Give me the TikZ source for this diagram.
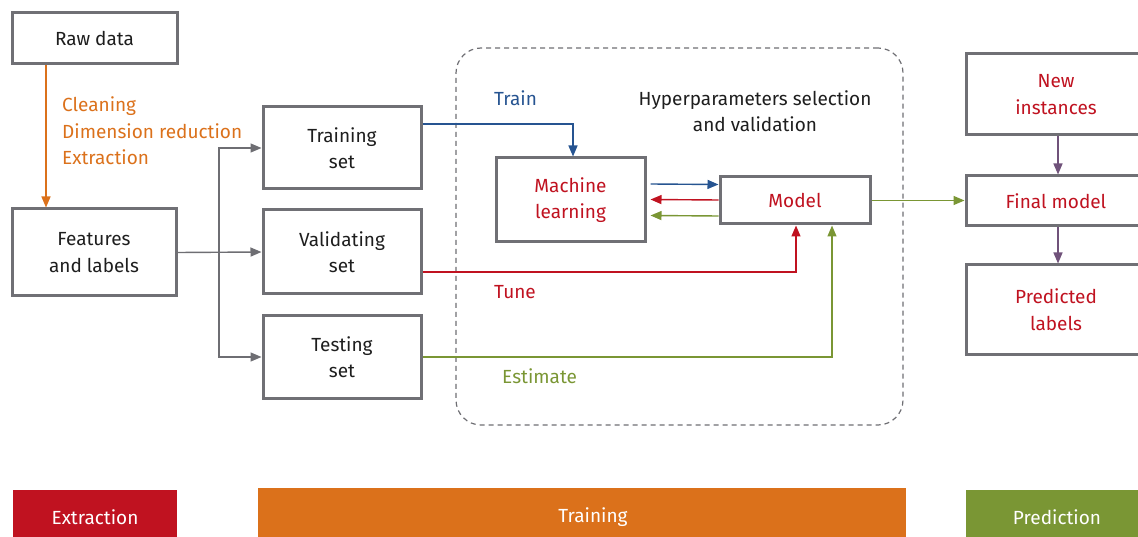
\documentclass[tikz,border=0pt]{standalone}
\usepackage{fontspec}
\setmainfont{Fira Sans}
\usetikzlibrary{arrows.meta}
\definecolor{boxgray}{RGB}{112,112,117}
\definecolor{linegray}{RGB}{110,110,115}
\definecolor{myblue}{RGB}{38,84,145}
\definecolor{myred}{RGB}{192,18,32}
\definecolor{mygreen}{RGB}{122,150,52}
\definecolor{myorange}{RGB}{219,113,27}
\definecolor{mypurple}{RGB}{112,82,122}
\definecolor{textgray}{RGB}{30,30,30}
\tikzset{
  every node/.style={font=\fontsize{19}{26.5}\selectfont, text=textgray},
  box/.style={draw=boxgray, line width=3pt, fill=white, align=center, inner sep=0pt},
  conn/.style={line width=1.4pt, -{Triangle[length=11pt,width=9pt]}},
  lbl/.style={inner sep=0pt, align=left},
  band/.style={inner sep=0pt, text=white, font=\fontsize{19}{22}\selectfont},
}
\begin{document}
\begin{tikzpicture}[x=1pt,y=-1pt]
\useasboundingbox (0,0) rectangle (1138,537);

% hyperparameter search region
\node[draw=linegray, line width=1.2pt, dash pattern=on 5pt off 4pt, rounded corners=25pt,
      minimum width=447, minimum height=377, inner sep=0pt] (hp) at (679.5,236.5) {};

% extraction stage
\node[box, minimum width=165, minimum height=51] (raw) at (94.5,38.5) {Raw data};
\node[box, minimum width=164, minimum height=87] (feat) at (94,252.5) {Features\\and labels};

% data splits
\node[box, minimum width=158, minimum height=82] (train) at (342,148) {Training\\set};
\node[box, minimum width=158, minimum height=84] (valid) at (342,252) {Validating\\set};
\node[box, minimum width=158, minimum height=82] (test) at (342,357) {Testing\\set};

% learning loop
\node[box, minimum width=149, minimum height=84] (ml) at (570.5,200) {\textcolor{myred}{Machine}\\\textcolor{myred}{learning}};
\node[box, minimum width=150, minimum height=47] (model) at (795,200.5) {\textcolor{myred}{Model}};

% prediction stage
\node[box, minimum width=180, minimum height=81] (new) at (1056,94.5) {\textcolor{myred}{New}\\\textcolor{myred}{instances}};
\node[box, minimum width=180, minimum height=50] (final) at (1056,201) {\textcolor{myred}{Final model}};
\node[box, minimum width=180, minimum height=89] (pred) at (1056,309.5) {\textcolor{myred}{Predicted}\\\textcolor{myred}{labels}};

% labels
\node[lbl, text=myorange, anchor=west] (steps) at (62,131) {Cleaning\\Dimension reduction\\Extraction};
\node[lbl, text=myblue, anchor=west] (trainlbl) at (494,98) {Train};
\node[lbl, align=center] (hplbl) at (755,111) {Hyperparameters selection\\and validation};
\node[lbl, text=myred, anchor=west] (tunelbl) at (494,292) {Tune};
\node[lbl, text=mygreen, anchor=west] (estlbl) at (502,376) {Estimate};

% connectors
\draw[conn, draw=myorange] ([xshift=-48.5]raw.south) -- ([xshift=-48]feat.north);

\coordinate (split) at (219,252.5);
\draw[conn, draw=linegray] (feat.east) -- (valid.west);
\draw[conn, draw=linegray] (split) |- (train.west);
\draw[conn, draw=linegray] (split) |- (test.west);

\draw[conn, draw=myblue] ([yshift=24]train.east) -| ([xshift=2.5]ml.north);
\draw[conn, draw=myblue] ([xshift=4,yshift=16]ml.east) -- ([yshift=16]model.west);
\draw[conn, draw=myred] ([yshift=0.5]model.west) -- ([xshift=4,yshift=0.5]ml.east);
\draw[conn, draw=mygreen] ([yshift=-15.5]model.west) -- ([xshift=4,yshift=-15.5]ml.east);

\draw[conn, draw=myred] ([yshift=-20]valid.east) -| ([xshift=1]model.south);
\draw[conn, draw=mygreen] (test.east) -| ([xshift=37]model.south);

\draw[conn, draw=mygreen] (model.east) -- (model.east -| final.west);
\draw[conn, draw=mypurple] ([xshift=2]new.south) -- ([xshift=2]final.north);
\draw[conn, draw=mypurple] ([xshift=2]final.south) -- ([xshift=2]pred.north);

% stage bands
\fill[myred] (13,490) rectangle (177,537);
\node[band] (bandex) at (95,517) {Extraction};
\fill[myorange] (258,488) rectangle (906,537);
\node[band] (bandtr) at (593,517) {Training};
\fill[mygreen] (966,490) rectangle (1138,537);
\node[band] (bandpr) at (1057,517) {Prediction};
\end{tikzpicture}
\end{document}
